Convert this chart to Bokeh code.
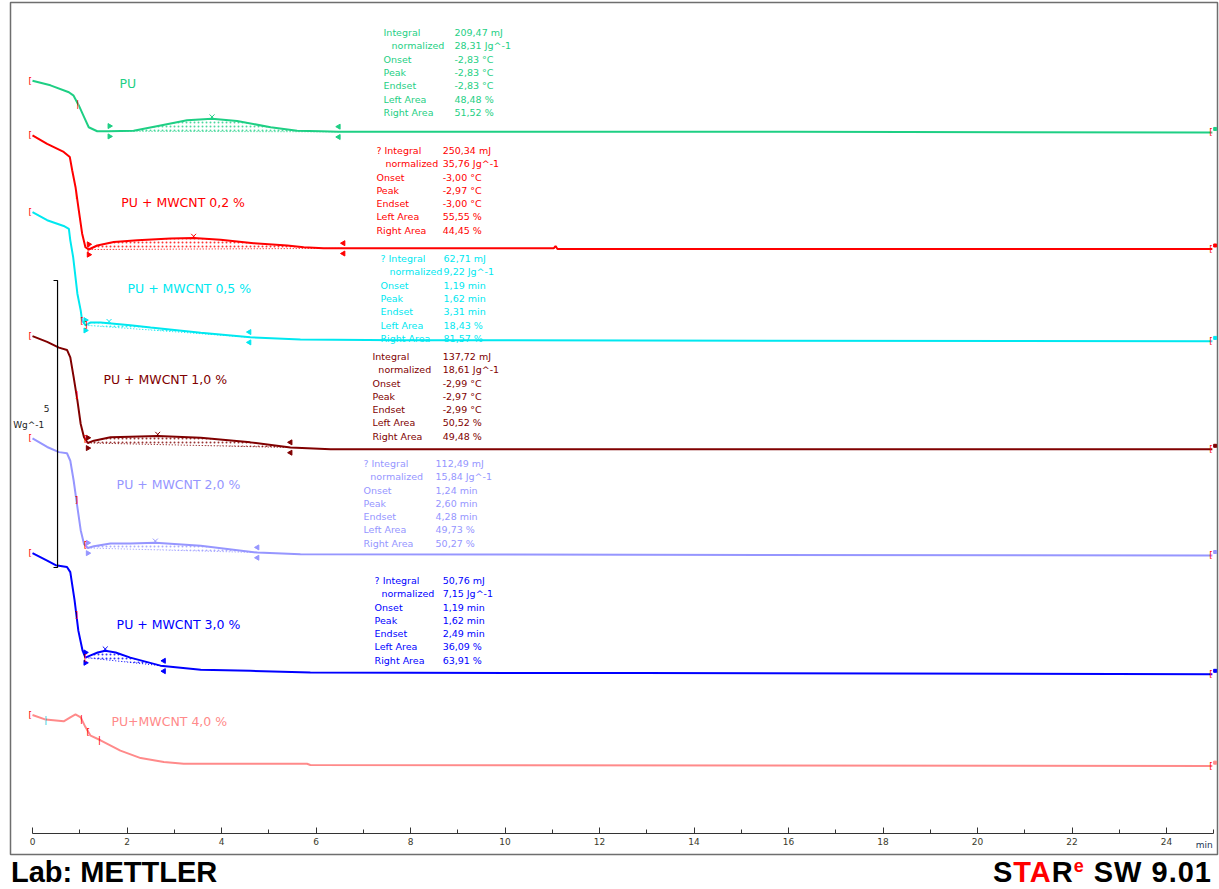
import numpy as np
from bokeh.plotting import figure
from bokeh.models import Range1d, LinearAxis, FixedTicker, Div
from bokeh.layouts import column
from bokeh.core.properties import value
from bokeh.embed import file_html
from bokeh.resources import INLINE

# ---------------- data (time in min, heat flow in W/g, shifted for display) -------------
pu_t = [0.0, 0.38, 0.77, 0.87, 0.98, 1.09, 1.19, 1.37, 1.61, 2.14, 2.71, 3.27, 3.80, 4.33, 5.04, 5.60, 6.10, 6.48, 16.04, 24.97]
pu_hf = [13.48, 13.40, 13.28, 13.22, 13.05, 12.85, 12.67, 12.60, 12.60, 12.61, 12.70, 12.79, 12.82, 12.78, 12.67, 12.61, 12.60, 12.59, 12.59, 12.58]

c02_t = [0.0, 0.31, 0.66, 0.79, 0.84, 0.91, 0.98, 1.05, 1.12, 1.19, 1.37, 1.72, 2.22, 2.92, 3.41, 3.98, 4.68, 5.39, 5.74, 6.16, 6.58, 11.03, 11.07, 11.11, 24.97]
c02_hf = [12.53, 12.38, 12.24, 12.15, 11.92, 11.63, 11.22, 10.82, 10.58, 10.54, 10.61, 10.67, 10.70, 10.73, 10.74, 10.71, 10.65, 10.61, 10.58, 10.56, 10.56, 10.56, 10.60, 10.55, 10.55]

c05_t = [0.0, 0.31, 0.66, 0.77, 0.80, 0.86, 0.95, 1.02, 1.05, 1.12, 1.23, 1.44, 2.07, 2.50, 3.56, 4.61, 5.67, 7.79, 24.97]
c05_hf = [11.19, 11.05, 10.95, 10.90, 10.70, 10.41, 9.77, 9.48, 9.30, 9.22, 9.27, 9.27, 9.22, 9.18, 9.09, 9.01, 8.97, 8.96, 8.94]

c10_t = [0.0, 0.31, 0.56, 0.73, 0.80, 0.87, 0.95, 1.02, 1.09, 1.17, 1.30, 1.65, 2.07, 2.65, 3.56, 4.61, 5.46, 6.31, 24.97]
c10_hf = [9.03, 8.93, 8.83, 8.79, 8.66, 8.32, 7.91, 7.50, 7.27, 7.17, 7.21, 7.27, 7.28, 7.29, 7.26, 7.18, 7.09, 7.06, 7.06]

c20_t = [0.0, 0.31, 0.56, 0.73, 0.80, 0.87, 0.95, 1.02, 1.09, 1.17, 1.30, 1.65, 2.07, 2.60, 3.56, 4.76, 5.67, 24.97]
c20_hf = [7.25, 7.10, 7.01, 6.99, 6.86, 6.52, 6.05, 5.65, 5.41, 5.34, 5.37, 5.42, 5.42, 5.43, 5.38, 5.26, 5.23, 5.21]

c30_t = [0.0, 0.31, 0.49, 0.73, 0.80, 0.89, 0.97, 1.06, 1.12, 1.23, 1.38, 1.54, 1.76, 2.07, 2.71, 3.56, 4.61, 5.88, 12.87, 24.97]
c30_hf = [5.25, 5.12, 5.04, 5.01, 4.92, 4.43, 3.90, 3.55, 3.43, 3.47, 3.52, 3.55, 3.52, 3.43, 3.29, 3.22, 3.20, 3.17, 3.16, 3.14]

c40_t = [0.0, 0.28, 0.66, 0.80, 0.91, 1.02, 1.12, 1.23, 1.44, 1.86, 2.29, 2.78, 3.20, 5.81, 5.88, 24.97]
c40_hf = [2.43, 2.35, 2.32, 2.39, 2.44, 2.39, 2.22, 2.07, 1.99, 1.81, 1.68, 1.61, 1.58, 1.58, 1.56, 1.54]

names = ["PU", "PU + MWCNT 0,2 %", "PU + MWCNT 0,5 %", "PU + MWCNT 1,0 %",
         "PU + MWCNT 2,0 %", "PU + MWCNT 3,0 %", "PU+MWCNT 4,0 %"]
colors = ["#1ecf84", "#ff0000", "#00e8f0", "#800000", "#9696ff", "#0000ff", "#ff8a8a"]
times = [pu_t, c02_t, c05_t, c10_t, c20_t, c30_t, c40_t]
flows = [pu_hf, c02_hf, c05_hf, c10_hf, c20_hf, c30_hf, c40_hf]

# integration limits (min) and peak times (min); None = no evaluation
limits = [(1.63, 6.48), (1.19, 6.58), (1.12, 4.59), (1.17, 5.46), (1.17, 4.76), (1.12, 2.78), None]
peaks = [3.80, 3.41, 1.62, 2.65, 2.60, 1.54, None]

# series label positions (min, W/g)
label_x = [1.84, 1.88, 2.01, 1.50, 1.78, 1.78, 1.67]
label_y = [13.43, 11.36, 9.86, 8.28, 6.45, 4.01, 2.32]

# evaluation result blocks
res_keys = [
    ["Integral", "normalized", "Onset", "Peak", "Endset", "Left Area", "Right Area"],
    ["? Integral", "normalized", "Onset", "Peak", "Endset", "Left Area", "Right Area"],
    ["? Integral", "normalized", "Onset", "Peak", "Endset", "Left Area", "Right Area"],
    ["Integral", "normalized", "Onset", "Peak", "Endset", "Left Area", "Right Area"],
    ["? Integral", "normalized", "Onset", "Peak", "Endset", "Left Area", "Right Area"],
    ["? Integral", "normalized", "Onset", "Peak", "Endset", "Left Area", "Right Area"],
]
res_vals = [
    ["209,47 mJ", "28,31 Jg^-1", "-2,83 °C", "-2,83 °C", "-2,83 °C", "48,48 %", "51,52 %"],
    ["250,34 mJ", "35,76 Jg^-1", "-3,00 °C", "-2,97 °C", "-3,00 °C", "55,55 %", "44,45 %"],
    ["62,71 mJ", "9,22 Jg^-1", "1,19 min", "1,62 min", "3,31 min", "18,43 %", "81,57 %"],
    ["137,72 mJ", "18,61 Jg^-1", "-2,99 °C", "-2,97 °C", "-2,99 °C", "50,52 %", "49,48 %"],
    ["112,49 mJ", "15,84 Jg^-1", "1,24 min", "2,60 min", "4,28 min", "49,73 %", "50,27 %"],
    ["50,76 mJ", "7,15 Jg^-1", "1,19 min", "1,62 min", "2,49 min", "36,09 %", "63,91 %"],
]
# block anchors: key x, indented x, value x, first-line y
res_kx = [7.43, 7.28, 7.365, 7.196, 7.005, 7.24]
res_nx = [7.60, 7.47, 7.556, 7.32, 7.15, 7.386]
res_vx = [8.93, 8.68, 8.70, 8.68, 8.53, 8.68]
res_y0 = [14.32, 12.265, 10.383, 8.676, 6.812, 4.774]
line_step = 0.2317

# small marker brackets on curves (series index, time, glyph)
mark_series = [0, 1, 1, 2, 2, 3, 3, 4, 4, 5, 5, 6, 6, 6]
mark_time = [0.96, 0.93, 1.19, 1.05, 1.13, 0.93, 1.12, 0.93, 1.12, 0.93, 1.12, 1.04, 1.18, 1.42]
mark_char = ["|", "|", "[", "[", "]", "]", "[", "]", "[", "]", "[", "|", "[", "|"]

scale_x = 0.53
scale_lo, scale_hi = 5.0, 10.0

x_ticks = list(range(0, 25, 2))
x_minor = list(range(1, 26, 2))

# ---------------- figure ----------------
p = figure(width=1219, height=856, output_backend="svg", toolbar_location=None,
           x_range=Range1d(-22 / 47.25, 1185 / 47.25), y_range=Range1d(0, 852 / 57.4),
           x_axis_location=None, y_axis_location=None,
           min_border_left=10, min_border_right=2, min_border_top=2, min_border_bottom=2)
p.xgrid.visible = False
p.ygrid.visible = False
p.outline_line_color = "#6e6e6e"
p.outline_line_width = 1.5
p.background_fill_color = "white"
p.border_fill_color = "white"

ax = LinearAxis(fixed_location=0.366, ticker=FixedTicker(ticks=x_ticks, minor_ticks=x_minor),
                bounds=(0, 25.0))
ax.axis_line_color = "#333333"
ax.major_tick_line_color = "#333333"
ax.minor_tick_line_color = "#333333"
ax.major_tick_in = 6
ax.major_tick_out = 0
ax.minor_tick_in = 4
ax.minor_tick_out = 0
ax.major_label_standoff = 5
ax.major_label_text_font = "DejaVu Sans"
ax.major_label_text_font_size = "9px"
ax.major_label_text_color = "#3a3a2a"
p.add_layout(ax, "below")
p.text(x=[24.80], y=[0.157], text=["min"], text_font=value("DejaVu Sans"),
       text_font_size="9px", text_color="#223355", text_align="center", text_baseline="middle")

ann_font = value("DejaVu Sans")

for i in range(len(names)):
    t = np.array(times[i]); hf = np.array(flows[i]); col = colors[i]
    # evaluated area (dotted)
    if limits[i] is not None:
        a, b = limits[i]
        xx = np.linspace(a, b, 160)
        yy = np.interp(xx, t, hf)
        ya, yb = np.interp([a, b], t, hf)
        base = ya + (yb - ya) * (xx - a) / (b - a)
        p.varea(x=xx, y1=base, y2=yy, fill_alpha=0, hatch_pattern="dot",
                hatch_color=col, hatch_scale=4, hatch_weight=1, hatch_alpha=0.8)
        p.line(x=[a, b], y=[ya, yb], line_color=col, line_width=1, line_dash="1 2")
        p.scatter(x=[a, a], y=[ya + 0.09, ya - 0.09], marker="triangle", size=5,
                  angle=-np.pi / 2, color=col)
        p.scatter(x=[b, b], y=[yb + 0.09, yb - 0.09], marker="triangle", size=5,
                  angle=np.pi / 2, color=col)
    p.line(x=t, y=hf, line_color=col, line_width=2)
    if peaks[i] is not None:
        p.scatter(x=[peaks[i]], y=[np.interp(peaks[i], t, hf) + 0.03], marker="x", size=7,
                  line_color=col, line_width=1)
    # start / end brackets
    p.text(x=[t[0] - 0.05, t[-1] - 0.03], y=[hf[0], hf[-1]], text=["[", "["],
           text_font=ann_font, text_font_size="9px", text_color="#ff0000",
           text_align="center", text_baseline="middle")
    p.scatter(x=[25.03], y=[hf[-1] + 0.06], marker="square", size=3, color=col)
    # series label
    p.text(x=[label_x[i]], y=[label_y[i]], text=[names[i]], text_font=ann_font,
           text_font_size="12.5px", text_color=col, text_baseline="middle")

# brackets / ticks on curves
for s, tm, ch in zip(mark_series, mark_time, mark_char):
    yv = np.interp(tm, times[s], flows[s])
    p.text(x=[tm], y=[yv], text=[ch], text_font=ann_font, text_font_size="9px",
           text_color="#ff0000", text_align="center", text_baseline="middle")
p.text(x=[0.28], y=[np.interp(0.28, c40_t, c40_hf)], text=["|"], text_font=ann_font,
       text_font_size="9px", text_color="#20c8d8", text_align="center", text_baseline="middle")

# result blocks
for j in range(len(res_keys)):
    col = colors[j]
    ys = [res_y0[j] - k * line_step for k in range(7)]
    kx = [res_nx[j] if k == 1 else res_kx[j] for k in range(7)]
    p.text(x=kx, y=ys, text=res_keys[j], text_font=ann_font, text_font_size="9.5px",
           text_color=col, text_baseline="middle")
    p.text(x=[res_vx[j]] * 7, y=ys, text=res_vals[j], text_font=ann_font,
           text_font_size="9.5px", text_color=col, text_baseline="middle")

# scale bar 5 W/g
p.line(x=[scale_x - 0.085, scale_x, scale_x, scale_x - 0.085],
       y=[scale_hi, scale_hi, scale_lo, scale_lo], line_color="black", line_width=1.2)
p.text(x=[0.30], y=[7.77], text=["5"], text_font=ann_font, text_font_size="9px",
       text_color="#222222", text_align="center", text_baseline="middle")
p.text(x=[-0.08], y=[7.49], text=["Wg^-1"], text_font=ann_font, text_font_size="9px",
       text_color="#222222", text_align="center", text_baseline="middle")

footer = Div(width=1219, height=30, text=(
    '<div style="position:relative;width:1219px;height:30px;'
    'font-family:\'Liberation Sans\',Arial,sans-serif;font-weight:bold;color:#000;">'
    '<span style="position:absolute;left:6px;top:-4px;font-size:29px;line-height:30px;'
    'white-space:nowrap;">Lab: METTLER</span>'
    '<span style="position:absolute;right:12px;top:-4px;font-size:29px;line-height:30px;'
    'letter-spacing:1px;white-space:nowrap;">S<span style="color:#ff0000;">TA</span>R'
    '<span style="color:#ff0000;font-size:18px;position:relative;top:-10px;">e</span> SW 9.01</span>'
    '</div>'))

layout = column(p, footer, spacing=0)
open("out.html", "w").write(file_html(layout, INLINE))
